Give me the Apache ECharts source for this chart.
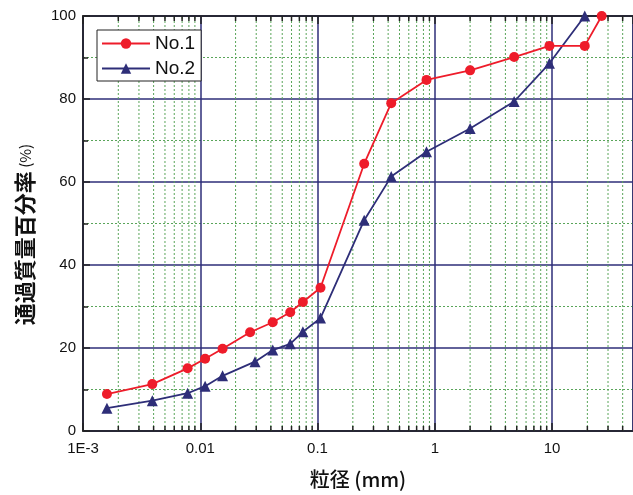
<!DOCTYPE html>
<html>
<head>
<meta charset="utf-8">
<script src="https://cdn.jsdelivr.net/npm/echarts@6/dist/echarts.min.js"></script>
<style>
  html, body { margin: 0; padding: 0; background: #fff; }
  #chart { width: 633px; height: 495px; }
</style>
</head>
<body>
<div id="chart"></div>
<script>
// grain size (mm) and passing percentage for each sample
const no1Size = [0.0016, 0.0039, 0.0078, 0.011, 0.0155, 0.0266, 0.0415, 0.0585, 0.075, 0.106, 0.25, 0.425, 0.85, 2, 4.75, 9.5, 19, 26.5];
const no1Pass = [8.9, 11.3, 15.1, 17.4, 19.8, 23.8, 26.2, 28.6, 31.1, 34.5, 64.4, 79.0, 84.6, 86.9, 90.1, 92.8, 92.8, 100];
const no2Size = [0.0016, 0.0039, 0.0078, 0.011, 0.0155, 0.0293, 0.0415, 0.0585, 0.075, 0.106, 0.25, 0.425, 0.85, 2, 4.75, 9.5, 19];
const no2Pass = [5.5, 7.3, 9.1, 10.8, 13.3, 16.7, 19.5, 21.0, 23.9, 27.2, 50.8, 61.3, 67.3, 72.9, 79.4, 88.6, 100];

const xTickValues = [0.001, 0.01, 0.1, 1, 10];
const xTickLabels = ['1E-3', '0.01', '0.1', '1', '10'];
const xMinorGrid = [];
xTickValues.forEach(function (d) {
  for (let k = 2; k <= 9; k++) {
    if (d * k < 49) xMinorGrid.push(d * k);
  }
});

let myChart = echarts.init(document.getElementById('chart'));

const navy = '#2e2e78';
const red = '#ee1c2a';
const minorGreen = '#5aa55a';

function zip(a, b) {
  return a.map(function (v, i) { return [v, b[i]]; });
}

let option = {
  animation: false,
  backgroundColor: '#fff',
  grid: {
    left: 83, top: 16, right: 0, bottom: 64,
    show: true, borderColor: '#222', borderWidth: 1.5
  },
  legend: {
    left: 97, top: 30,
    orient: 'vertical',
    backgroundColor: '#fff',
    borderColor: '#222', borderWidth: 1,
    padding: [4, 6, 3, 4],
    itemGap: 6,
    itemWidth: 48, itemHeight: 13,
    textStyle: { fontFamily: 'Liberation Sans', fontSize: 19, color: '#111' },
    data: ['No.1', 'No.2']
  },
  xAxis: [{
    type: 'log',
    min: 0.001, max: 49,
    name: '粒径 (mm)',
    nameLocation: 'middle',
    nameGap: 38,
    nameTextStyle: { fontFamily: 'Noto Sans CJK JP', fontSize: 20, fontWeight: 500, color: '#111' },
    axisLine: { lineStyle: { color: '#222', width: 1.5 } },
    axisTick: { inside: true, length: 8, lineStyle: { color: '#222', width: 1.5 } },
    axisLabel: {
      showMaxLabel: false,
      margin: 10,
      fontFamily: 'Liberation Sans', fontSize: 15, color: '#111',
      formatter: function (v) {
        const i = xTickValues.findIndex(function (t) { return Math.abs(Math.log10(t) - Math.log10(v)) < 1e-6; });
        return i >= 0 ? xTickLabels[i] : '';
      }
    },
    splitLine: { show: true, lineStyle: { color: navy, width: 1.5 } }
  }, {
    type: 'log',
    position: 'top',
    min: 0.001, max: 49,
    axisLine: { lineStyle: { color: '#222', width: 1.5 } },
    axisTick: { inside: true, length: 8, lineStyle: { color: '#222', width: 1.5 } },
    axisLabel: { show: false },
    splitLine: { show: false }
  }],
  yAxis: {
    type: 'value',
    min: 0, max: 100, interval: 20,
    name: '{a|通過質量百分率} {b|(%)}',
    nameLocation: 'middle',
    nameGap: 47,
    nameRotate: 90,
    nameTextStyle: {
      padding: [0, 22, 0, 0],
      rich: {
        a: { fontFamily: 'Noto Sans CJK JP', fontSize: 22, fontWeight: 'bold', color: '#111' },
        b: { fontFamily: 'Noto Sans CJK JP', fontSize: 15, color: '#111' }
      }
    },
    axisLine: { show: true, lineStyle: { color: '#222', width: 1.5 } },
    axisTick: { inside: true, length: 7, lineStyle: { color: '#222', width: 1.5 } },
    minorTick: { show: true, splitNumber: 2, length: 5, lineStyle: { color: '#222', width: 1.5 } },
    axisLabel: { margin: 7, fontFamily: 'Liberation Sans', fontSize: 15, color: '#111' },
    splitLine: { show: true, lineStyle: { color: navy, width: 1.5 } },
    minorSplitLine: { show: true, lineStyle: { color: minorGreen, width: 1, type: [2, 2] } }
  },
  series: [{
    type: 'custom',
    silent: true,
    z: 1,
    clip: false,
    data: xMinorGrid.map(function (v) { return [v, 0]; }),
    renderItem: function (params, api) {
      const bottom = api.coord([api.value(0), 0]);
      const top = api.coord([api.value(0), 100]);
      const style = { stroke: '#222', lineWidth: 1.5 };
      return {
        type: 'group',
        children: [{
          type: 'line',
          shape: { x1: bottom[0], y1: bottom[1], x2: top[0], y2: top[1] },
          style: { stroke: minorGreen, lineWidth: 1, lineDash: [2, 2] }
        }, {
          type: 'line',
          shape: { x1: bottom[0], y1: bottom[1], x2: bottom[0], y2: bottom[1] - 5 },
          style: style
        }, {
          type: 'line',
          shape: { x1: top[0], y1: top[1], x2: top[0], y2: top[1] + 5 },
          style: style
        }]
      };
    }
  }, {
    name: 'No.1',
    type: 'line',
    z: 4,
    data: zip(no1Size, no1Pass),
    symbol: 'circle',
    symbolSize: 10,
    clip: false,
    lineStyle: { color: red, width: 1.8 },
    itemStyle: { color: red }
  }, {
    name: 'No.2',
    type: 'line',
    z: 3,
    data: zip(no2Size, no2Pass),
    symbol: 'triangle',
    symbolSize: 11,
    clip: false,
    lineStyle: { color: navy, width: 1.8 },
    itemStyle: { color: navy }
  }]
};

option && myChart.setOption(option);
</script>
</body>
</html>
